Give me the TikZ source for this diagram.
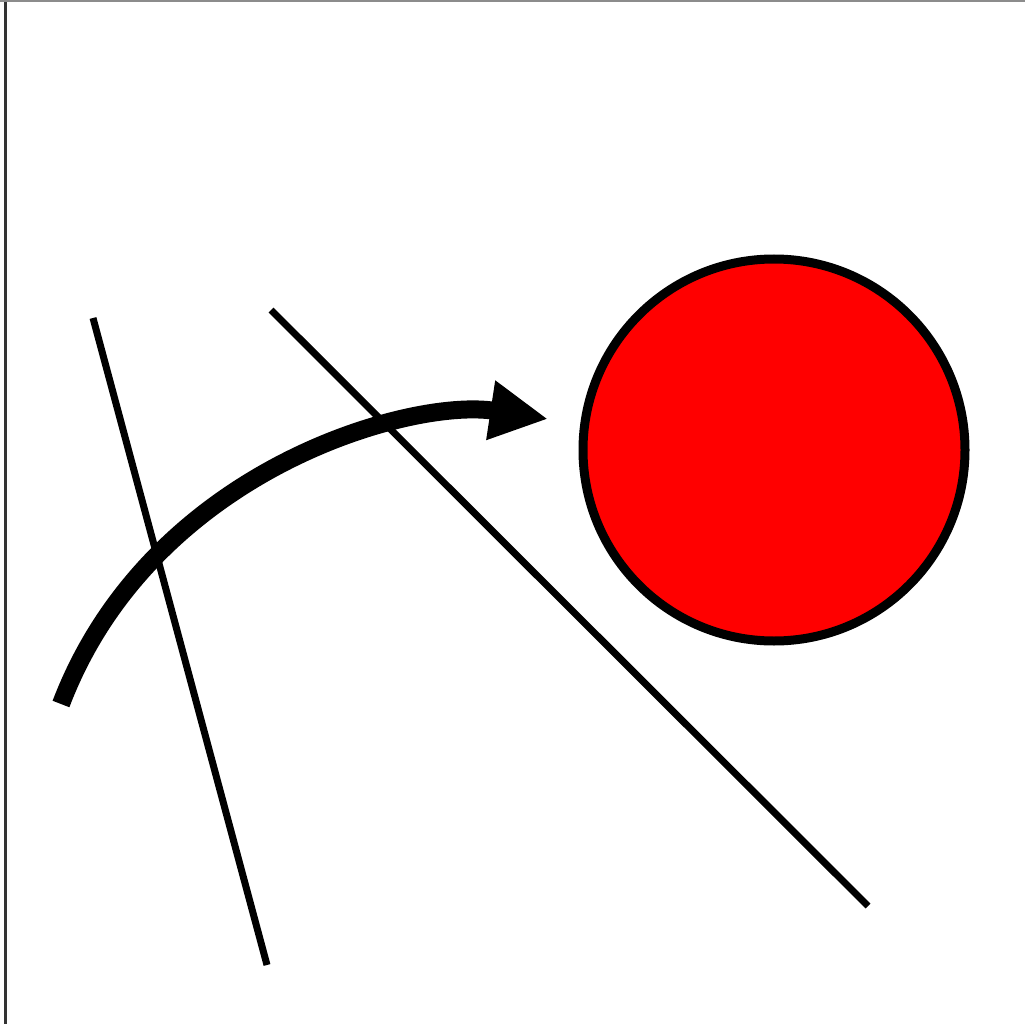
\documentclass[tikz,border=0pt]{standalone}
\usetikzlibrary{arrows.meta}
\begin{document}
\begin{tikzpicture}[x=1pt,y=-1pt,
  stick/.style={draw=black,line width=7pt},
  ball/.style={draw=black,fill=red,line width=9pt},
  bigarrow/.style={draw=black,line width=18pt,-{Triangle[length=58pt,width=56pt]}}]
\useasboundingbox (0,0) rectangle (1025,1024);
\fill[white] (0,0) rectangle (1025,1024);
\draw[line width=3pt,black!80] (5.5,0) -- (5.5,1024);
\draw[line width=2.5pt,black!45] (0,1.2) -- (1025,1.2);
\coordinate (l1a) at (93,318);
\coordinate (l1b) at (267,965);
\coordinate (l2a) at (271,310);
\coordinate (l2b) at (868,906);
\draw[stick] (l1a) -- (l1b);
\draw[stick] (l2a) -- (l2b);
\node[ball,circle,minimum size=382pt,inner sep=0pt] (ball) at (774,450) {};
\coordinate (as) at (61,704);
\coordinate (ae) at (548,419);
\draw[bigarrow] (as) .. controls (150,470) and (410,398) .. (ae);
\end{tikzpicture}
\end{document}
